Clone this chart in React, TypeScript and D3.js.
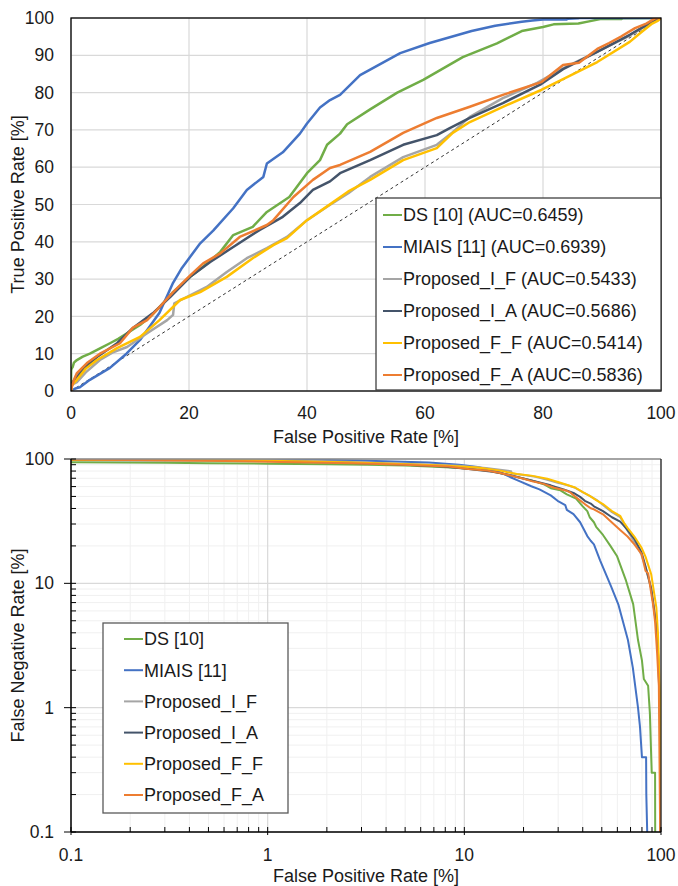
import React from 'react';
import * as d3 from 'd3';

type Pt = [number, number];

const seriesNames = ['DS [10]', 'MIAIS [11]', 'Proposed_I_F', 'Proposed_I_A', 'Proposed_F_F', 'Proposed_F_A'];
const aucValues = ['0.6459', '0.6939', '0.5433', '0.5686', '0.5414', '0.5836'];
const seriesColors = ['#70ad47', '#4472c4', '#a5a5a5', '#44546a', '#ffc000', '#ed7d31'];

// ROC points: [FPR %, TPR %]
const rocDS: Pt[] = [
  [0, 0], [0.02, 5.5], [0.1, 6.0], [0.3, 6.5], [0.5, 7.6], [1, 8.3], [2, 9.2], [3.2, 10], [5, 11.5],
  [6.6, 12.8], [8, 14], [9.5, 15.5], [11.7, 17.7], [13.5, 20], [15, 22.5], [17.3, 26.5], [20.2, 30.6],
  [22.4, 33.3], [25.3, 37.3], [27.5, 41.8], [30.8, 44], [33.2, 48], [37, 52], [40, 58.4], [42.2, 61.9],
  [43.4, 66], [45.6, 69], [46.8, 71.5], [50.7, 75.5], [55.3, 80], [59.7, 83.4], [66.4, 89.5],
  [72.2, 93.2], [76.4, 96.5], [80, 97.6], [81.8, 98.3], [86, 98.5], [87.8, 99.1], [89.7, 99.7],
  [93.3, 99.7], [93.5, 99.95], [100, 100],
];
const rocMIAIS: Pt[] = [
  [0, 0], [0.1, 0.3], [0.5, 0.5], [1, 0.8], [1.5, 1], [3.2, 3], [6.6, 6.2], [9.4, 10], [11.7, 13.7],
  [15, 21], [17.3, 29], [18.8, 33], [21.9, 39.6], [24.1, 43], [27.5, 49], [29.8, 53.9], [32.6, 57.4],
  [33.2, 61], [35.9, 64], [38.8, 69], [40, 71.7], [42.2, 76], [43.9, 78], [45.6, 79.4], [49, 84.7],
  [55.8, 90.6], [60.8, 93.3], [67.9, 96.5], [71.9, 97.9], [76.4, 99.0], [78.2, 99.3], [80, 99.6],
  [84, 99.6], [84.2, 99.8], [86, 99.95], [86.2, 100], [100, 100],
];
const rocIF: Pt[] = [
  [0, 0], [0.1, 1.5], [0.5, 2], [1, 2.4], [2.5, 5], [4.9, 8.3], [7, 10.3], [9.5, 11.8], [12.9, 15.5],
  [16.3, 19], [17.3, 20.4], [17.5, 23.5], [19.6, 25.2], [23, 27.9], [26.4, 31.9], [29.8, 35.6],
  [33.2, 38.3], [36.6, 41.3], [40, 45.8], [43.4, 49.4], [47, 53], [50.7, 57.4], [56.3, 62.7], [62, 66],
  [64.7, 69.4], [67.6, 73.5], [73.2, 78.5], [79, 82.6], [83.4, 86.5], [89.2, 91], [94.7, 95.3],
  [97, 97.5], [98.5, 99], [99.5, 99.9], [100, 100],
];
const rocIA: Pt[] = [
  [0, 0], [0.1, 2], [0.5, 2.8], [1, 3.8], [2.5, 6.5], [4.4, 9.1], [7.8, 12.8], [10.5, 16.9], [13.9, 20.9],
  [16.8, 25.2], [20.2, 30.6], [23.6, 34.6], [27.5, 38.6], [32, 43.2], [35.9, 46.7], [38.8, 50.4],
  [41, 53.9], [43.9, 56.2], [45.6, 58.4], [50.7, 61.9], [56.3, 66], [62, 68.6], [64.2, 70.5],
  [67.6, 73.2], [73.2, 77.2], [79.7, 82.3], [83.4, 86.3], [89.2, 90.9], [94.7, 95.5], [97, 97.6],
  [98.8, 99.2], [99.6, 99.9], [100, 100],
];
const rocFF: Pt[] = [
  [0, 0], [0.1, 1.5], [0.5, 2.2], [1, 3], [2.5, 6], [4.4, 8.3], [7.8, 11.5], [11.7, 14.5], [15, 19],
  [18.5, 24.4], [21.9, 26.5], [26.4, 30.6], [30.8, 35.6], [34.3, 39.1], [36.6, 41], [40, 45.8],
  [43.4, 49.5], [47, 53.5], [50.7, 56.6], [56.3, 61.9], [62, 65.1], [64.7, 69.2], [67.6, 72.1],
  [73.2, 76.2], [79.7, 80.7], [83.4, 83.6], [89.2, 88.2], [94.7, 93.6], [96.5, 96], [98.5, 98.5],
  [99.5, 99.3], [100, 100],
];
const rocFA: Pt[] = [
  [0, 0], [0.1, 0.8], [0.5, 3], [1, 4.8], [2.7, 7.5], [4.9, 10], [8.3, 12.8], [10.5, 17], [12.9, 19],
  [15, 22.5], [17.3, 26.5], [20.2, 31], [22.4, 34.2], [25.3, 36.9], [28.6, 41.3], [33.2, 44.5],
  [34.3, 45.8], [37.7, 52], [41, 56.6], [43.9, 59.8], [45.6, 60.6], [50.7, 64.1], [56.3, 69.2],
  [62, 73.2], [67.6, 76.2], [73.2, 79.4], [79.7, 82.8], [83.4, 87.4], [86.1, 88], [89.2, 91.7],
  [91.2, 93.3], [93.3, 95.1], [95.6, 97.3], [97.5, 98.5], [99, 99.9], [100, 100],
];
const rocSeries = [rocDS, rocMIAIS, rocIF, rocIA, rocFF, rocFA];

const rocTicksX = [0, 20, 40, 60, 80, 100];
const rocTicksY = [0, 10, 20, 30, 40, 50, 60, 70, 80, 90, 100];
const logTickLabels = ['0.1', '1', '10', '100'];

const FONT = '"Liberation Sans", Arial, sans-serif';

export default function App() {
  const L = 71, R = 661;
  const t1 = 18, b1 = 391;
  const t2 = 459, b2 = 832;

  const x1 = d3.scaleLinear().domain([0, 100]).range([L, R]);
  const y1 = d3.scaleLinear().domain([0, 100]).range([b1, t1]);
  const x2 = d3.scaleLog().domain([0.1, 100]).range([L, R]);
  const y2 = d3.scaleLog().domain([0.1, 100]).range([b2, t2]);

  const rocLine = d3.line<Pt>().x(d => x1(d[0])).y(d => y1(d[1]));
  const detLine = d3.line<Pt>().x(d => x2(d[0])).y(d => y2(d[1]));
  // DET: false negative rate = 100 - TPR
  const detPts = (s: Pt[]): Pt[] =>
    s.filter(d => d[0] >= 0.1).map(d => [d[0], Math.max(100 - d[1], 0.05)] as Pt);

  const logAll = x2.ticks();
  const isMajor = (v: number) => Math.abs(Math.log10(v) - Math.round(Math.log10(v))) < 1e-6;
  const majors = logAll.filter(isMajor);
  const minors = logAll.filter(v => !isMajor(v));

  const txt = '#1a1a1a';

  return (
    <svg width={678} height={886} style={{ position: 'absolute', left: 0, top: 0, background: '#fff' }}
      fontFamily={FONT}>
      <defs>
        <clipPath id="clip1"><rect x={L} y={t1} width={R - L} height={b1 - t1} /></clipPath>
        <clipPath id="clip2"><rect x={L} y={t2} width={R - L} height={b2 - t2} /></clipPath>
      </defs>
      <rect width={678} height={886} fill="#fff" />

      {/* ---------- ROC ---------- */}
      <g>
        {rocTicksY.map(v => (
          <line key={'gy' + v} x1={L} x2={R} y1={y1(v)} y2={y1(v)} stroke="#d9d9d9" strokeWidth={1.2} />
        ))}
        {rocTicksX.map(v => (
          <line key={'gx' + v} x1={x1(v)} x2={x1(v)} y1={t1} y2={b1} stroke="#d9d9d9" strokeWidth={1.2} />
        ))}
        <line x1={x1(0)} y1={y1(0)} x2={x1(100)} y2={y1(100)} stroke="#333" strokeWidth={1} strokeDasharray="3,3" />
        <g clipPath="url(#clip1)">
          {rocSeries.map((s, i) => (
            <path key={i} d={rocLine(s) || ''} fill="none" stroke={seriesColors[i]} strokeWidth={2.5}
              strokeLinejoin="round" />
          ))}
        </g>
        <rect x={L} y={t1} width={R - L} height={b1 - t1} fill="none" stroke="#000" strokeWidth={1.3} />
        {rocTicksY.map(v => (
          <text key={'ly' + v} x={54} y={y1(v)} dy="0.35em" textAnchor="end" fontSize={17.5} fill={txt}>{v}</text>
        ))}
        {rocTicksX.map(v => (
          <text key={'lx' + v} x={x1(v)} y={419} textAnchor="middle" fontSize={17.5} fill={txt}>{v}</text>
        ))}
        <text x={(L + R) / 2} y={443} textAnchor="middle" fontSize={18} fill={txt}>False Positive Rate [%]</text>
        <text transform={`translate(18,${(t1 + b1) / 2}) rotate(-90)`} dy="0.35em" textAnchor="middle"
          fontSize={18} fill={txt}>True Positive Rate [%]</text>

        <rect x={376} y={198} width={285} height={192} fill="#fff" stroke="#404040" strokeWidth={1.3} />
        {seriesNames.map((n, i) => {
          const yy = 215 + i * 32;
          return (
            <g key={'lg1' + i}>
              <line x1={383} x2={402} y1={yy} y2={yy} stroke={seriesColors[i]} strokeWidth={2} />
              <text x={403} y={yy} dy="0.35em" fontSize={18} fill={txt}>{`${n} (AUC=${aucValues[i]})`}</text>
            </g>
          );
        })}
      </g>

      {/* ---------- DET ---------- */}
      <g>
        {minors.map((v, i) => (
          <g key={'mn' + i}>
            <line x1={x2(v)} x2={x2(v)} y1={t2} y2={b2} stroke="#f0f0f0" strokeWidth={1} />
            <line x1={L} x2={R} y1={y2(v)} y2={y2(v)} stroke="#f0f0f0" strokeWidth={1} />
          </g>
        ))}
        {majors.map((v, i) => (
          <g key={'mj' + i}>
            <line x1={x2(v)} x2={x2(v)} y1={t2} y2={b2} stroke="#d9d9d9" strokeWidth={1.2} />
            <line x1={L} x2={R} y1={y2(v)} y2={y2(v)} stroke="#d9d9d9" strokeWidth={1.2} />
          </g>
        ))}
        <g clipPath="url(#clip2)">
          {rocSeries.map((s, i) => (
            <path key={i} d={detLine(detPts(s)) || ''} fill="none" stroke={seriesColors[i]} strokeWidth={2}
              strokeLinejoin="round" />
          ))}
        </g>
        <line x1={L} x2={R} y1={t2} y2={t2} stroke="#8c8c8c" strokeWidth={1.3} />
        <line x1={R} x2={R} y1={t2} y2={b2} stroke="#262626" strokeWidth={1.3} />
        <line x1={L} x2={L} y1={t2} y2={b2} stroke="#000" strokeWidth={1.5} />
        <line x1={L} x2={R} y1={b2} y2={b2} stroke="#000" strokeWidth={1.5} />
        {minors.map((v, i) => (
          <g key={'mt' + i}>
            <line x1={L} x2={L + 5} y1={y2(v)} y2={y2(v)} stroke="#000" strokeWidth={1} />
            <line x1={x2(v)} x2={x2(v)} y1={b2} y2={b2 - 5} stroke="#000" strokeWidth={1} />
          </g>
        ))}
        {majors.map((v, i) => (
          <g key={'mjt' + i}>
            <line x1={L - 7} x2={L + 5} y1={y2(v)} y2={y2(v)} stroke="#000" strokeWidth={1} />
            <line x1={x2(v)} x2={x2(v)} y1={b2 + 3} y2={b2 - 5} stroke="#000" strokeWidth={1} />
            <text x={54} y={y2(v)} dy="0.35em" textAnchor="end" fontSize={17.5} fill={txt}>{logTickLabels[i]}</text>
            <text x={x2(v)} y={861} textAnchor="middle" fontSize={17.5} fill={txt}>{logTickLabels[i]}</text>
          </g>
        ))}
        <text x={(L + R) / 2} y={882} textAnchor="middle" fontSize={18} fill={txt}>False Positive Rate [%]</text>
        <text transform={`translate(18,${(t2 + b2) / 2}) rotate(-90)`} dy="0.35em" textAnchor="middle"
          fontSize={18} fill={txt}>False Negative Rate [%]</text>

        <rect x={103} y={623} width={185} height={190} fill="#fff" stroke="#595959" strokeWidth={1.3} />
        {seriesNames.map((n, i) => {
          const yy = 639 + i * 31.2;
          return (
            <g key={'lg2' + i}>
              <line x1={124} x2={143} y1={yy} y2={yy} stroke={seriesColors[i]} strokeWidth={2} />
              <text x={144} y={yy} dy="0.35em" fontSize={18} fill={txt}>{n}</text>
            </g>
          );
        })}
      </g>
    </svg>
  );
}
